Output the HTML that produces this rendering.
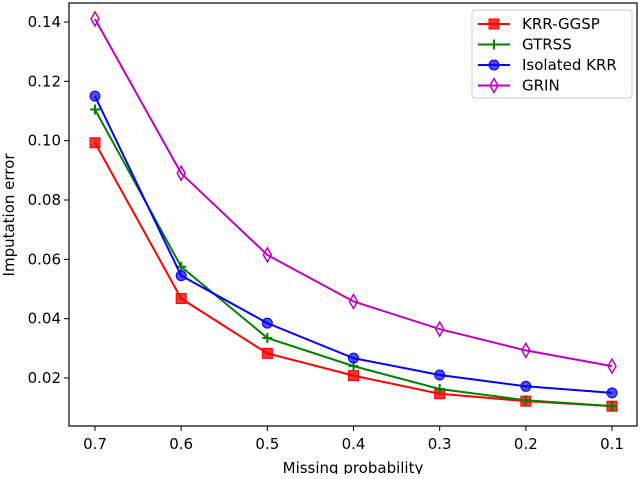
<!DOCTYPE html>
<html><head><meta charset="utf-8"><style>
body{margin:0;background:#fff;}
svg text{font-family:"DejaVu Sans","Liberation Sans",sans-serif;}
</style></head><body>
<svg id="chart" width="640" height="474" xmlns="http://www.w3.org/2000/svg">
<g id="axes"></g>
<g id="series"></g>
<g id="legend"></g>
</svg>
<script>
const categories = [0.7, 0.6, 0.5, 0.4, 0.3, 0.2, 0.1];
const xTickLabels = ["0.7","0.6","0.5","0.4","0.3","0.2","0.1"];
const yTicks = [0.02,0.04,0.06,0.08,0.10,0.12,0.14];
const yTickLabels = ["0.02","0.04","0.06","0.08","0.10","0.12","0.14"];
const krrGgsp = [0.0993,0.0468,0.0283,0.0208,0.0147,0.0122,0.0105];
const gtrss = [0.1105,0.0575,0.0335,0.0240,0.0163,0.0125,0.0105];
const isolatedKrr = [0.1150,0.0545,0.0385,0.0267,0.0210,0.0172,0.0150];
const grin = [0.1410,0.0890,0.0615,0.0458,0.0365,0.0293,0.0240];
const seriesNames = ["KRR-GGSP","GTRSS","Isolated KRR","GRIN"];

const NS="http://www.w3.org/2000/svg";
const L=69,R=637,T=3,B=426;
function xs(i){return 95+i*86.17;}
function ys(v){return 378-(v-0.02)*2966.7;}
function mk(tag,attrs,parent){const e=document.createElementNS(NS,tag);for(const k in attrs)e.setAttribute(k,attrs[k]);parent.appendChild(e);return e;}
const axes=document.getElementById('axes');
const frame=mk('rect',{x:L,y:T,width:R-L,height:B-T,fill:'none',stroke:'#000','stroke-width':1.2},axes);


categories.forEach((c,i)=>{
  const x=xs(i);
  const t=mk('line',{x1:x,x2:x,y1:B,y2:B+5,stroke:'#000'},axes);
  
  
  const tx=mk('text',{x:x,y:B+23,'text-anchor':'middle','font-size':15},axes);
  tx.textContent=xTickLabels[i];
  
  
});
yTicks.forEach((v,i)=>{
  const y=ys(v);
  const t=mk('line',{x1:L-5,x2:L,y1:y,y2:y,stroke:'#000'},axes);
  
  
  const tx=mk('text',{x:L-8,y:y+5,'text-anchor':'end','font-size':15},axes);
  tx.textContent=yTickLabels[i];
  
  
});
const xt=mk('text',{x:353,y:473,'text-anchor':'middle','font-size':15},axes);
xt.textContent='Missing probability';


const yt=mk('text',{x:14,y:215,'text-anchor':'middle','font-size':15,transform:'rotate(-90 14 215)'},axes);
yt.textContent='Imputation error';



function marker(type,x,y,color,g){
  let e;
  if(type==='square') e=mk('rect',{x:x-5,y:y-5,width:10,height:10,fill:color,stroke:color,'fill-opacity':0.8},g);
  else if(type==='plus'){e=mk('path',{d:`M${x-5} ${y}H${x+5}M${x} ${y-5}V${y+5}`,stroke:color,'stroke-width':2},g);}
  else if(type==='circle') e=mk('circle',{cx:x,cy:y,r:5,fill:color,stroke:color,'fill-opacity':0.7},g);
  else e=mk('path',{d:`M${x} ${y-7}L${x+4} ${y}L${x} ${y+7}L${x-4} ${y}Z`,fill:'none',stroke:color,'stroke-width':1.5},g);
  
  
}
const sdata=[krrGgsp,gtrss,isolatedKrr,grin];
const colors=['#ff0000','#008000','#0000ff','#bf00bf'];
const mtypes=['square','plus','circle','diamond'];
const sg=document.getElementById('series');
sdata.forEach((d,si)=>{
  const g=mk('g',{},sg);
  
  
  const p=mk('polyline',{points:d.map((v,i)=>xs(i)+','+ys(v)).join(' '),fill:'none',stroke:colors[si],'stroke-width':2},g);
  
  
  d.forEach((v,i)=>marker(mtypes[si],xs(i),ys(v),colors[si],g));
});
const lg=document.getElementById('legend');
const box=mk('rect',{x:472,y:10,width:160,height:88,rx:3,fill:'#fff',stroke:'#ccc'},lg);


seriesNames.forEach((n,i)=>{
  const y=24+i*20.5;
  const g=mk('g',{},lg);
  
  
  mk('line',{x1:478,x2:510,y1:y,y2:y,stroke:colors[i],'stroke-width':2},g);
  marker(mtypes[i],494,y,colors[i],g);
  const t=mk('text',{x:522,y:y+5,'font-size':15},g);
  t.textContent=n;
  
  
});
</script>
</body></html>
